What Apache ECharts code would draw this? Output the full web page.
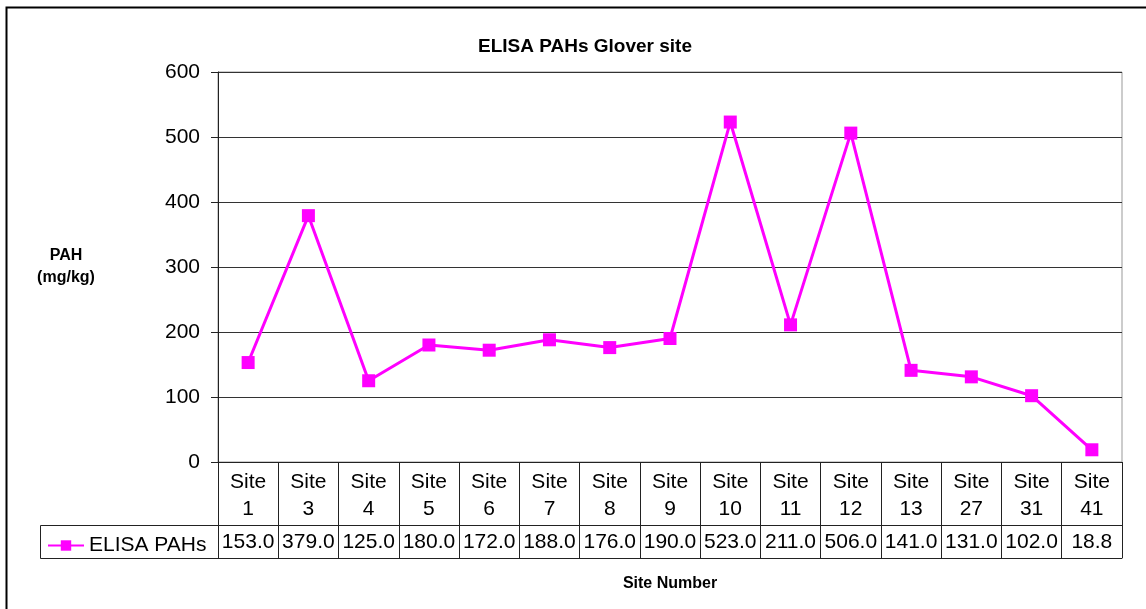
<!DOCTYPE html>
<html>
<head>
<meta charset="utf-8">
<script src="https://cdn.jsdelivr.net/npm/echarts@6/dist/echarts.min.js"></script>
<style>
html,body{margin:0;padding:0;background:#fff;}
#chart{width:1146px;height:609px;}
</style>
</head>
<body>
<div id="chart"></div>
<script>
var categories = ['Site\n1','Site\n3','Site\n4','Site\n5','Site\n6','Site\n7','Site\n8','Site\n9','Site\n10','Site\n11','Site\n12','Site\n13','Site\n27','Site\n31','Site\n41'];
var pahValues = [153.0, 379.0, 125.0, 180.0, 172.0, 188.0, 176.0, 190.0, 523.0, 211.0, 506.0, 141.0, 131.0, 102.0, 18.8];
var seriesName = 'ELISA PAHs';
var yTicks = {min: 0, max: 600, interval: 100};

var FONT = '"Liberation Sans", Arial, sans-serif';
var chart = echarts.init(document.getElementById('chart'), null, {renderer: 'canvas'});
var grid = {left: 218, right: 24, top: 72, bottom: 147, show: true, borderColor: '#999', borderWidth: 1, backgroundColor: 'transparent'};

var option = {
  backgroundColor: '#fff',
  animation: false,
  title: {
    text: 'ELISA PAHs Glover site',
    left: 580, top: 32, textAlign: 'center',
    textStyle: {fontFamily: FONT, fontSize: 19, fontWeight: 'bold', color: '#000'}
  },
  legend: {
    data: [seriesName],
    left: 42, top: 530,
    itemWidth: 36, itemHeight: 13, itemGap: 4,
    textStyle: {fontFamily: FONT, fontSize: 21, color: '#000', padding: [0,0,0,0]}
  },
  grid: grid,
  xAxis: [
    {
      type: 'category', data: categories, boundaryGap: true, position: 'bottom',
      axisLine: {show: true, lineStyle: {color: '#222', width: 1}},
      axisTick: {show: true, length: 96, lineStyle: {color: '#222', width: 1}},
      axisLabel: {fontFamily: FONT, fontSize: 21, lineHeight: 27, color: '#000', margin: 7, interval: 0}
    },
    {
      type: 'category', data: categories, boundaryGap: true, position: 'bottom', offset: 63,
      axisLine: {show: true, lineStyle: {color: '#222', width: 1}},
      axisTick: {show: false},
      axisLabel: {fontFamily: FONT, fontSize: 21, color: '#000', margin: 7, interval: 0,
        formatter: function (v, i) { return pahValues[i].toFixed(1); }}
    },
    {
      type: 'category', data: categories, boundaryGap: true, position: 'bottom', offset: 96,
      axisLine: {show: true, lineStyle: {color: '#222', width: 1}},
      axisTick: {show: false},
      axisLabel: {show: false},
      name: 'Site Number', nameLocation: 'middle', nameGap: 18,
      nameTextStyle: {fontFamily: FONT, fontSize: 16, fontWeight: 'bold', color: '#000'}
    }
  ],
  yAxis: {
    type: 'value', min: yTicks.min, max: yTicks.max, interval: yTicks.interval,
    axisLine: {show: true, lineStyle: {color: '#222', width: 1}},
    axisTick: {show: true, length: 7, lineStyle: {color: '#222'}},
    axisLabel: {fontFamily: FONT, fontSize: 21, color: '#000', margin: 18},
    splitLine: {show: true, lineStyle: {color: '#333', width: 1}},
    name: 'PAH\n(mg/kg)', nameLocation: 'middle', nameRotate: 0, nameGap: 152,
    nameTextStyle: {fontFamily: FONT, fontSize: 16, fontWeight: 'bold', color: '#000', lineHeight: 22, align: 'center'}
  },
  series: [{
    name: seriesName, type: 'line', xAxisIndex: 0, data: pahValues,
    symbol: 'rect', symbolSize: 13,
    lineStyle: {color: '#ff00ff', width: 3},
    itemStyle: {color: '#ff00ff'}
  }],
  graphic: [
    {type: 'rect', shape: {x: 6.5, y: 7.5, width: 1200, height: 700}, style: {fill: 'none', stroke: '#000', lineWidth: 2}, silent: true, z: -1},
    {type: 'line', shape: {x1: 40.5, y1: 525.5, x2: 218, y2: 525.5}, style: {stroke: '#222', lineWidth: 1}},
    {type: 'line', shape: {x1: 40.5, y1: 558.5, x2: 218, y2: 558.5}, style: {stroke: '#222', lineWidth: 1}},
    {type: 'line', shape: {x1: 40.5, y1: 525.5, x2: 40.5, y2: 558.5}, style: {stroke: '#222', lineWidth: 1}}
  ]
};
chart.setOption(option);
</script>
</body>
</html>
